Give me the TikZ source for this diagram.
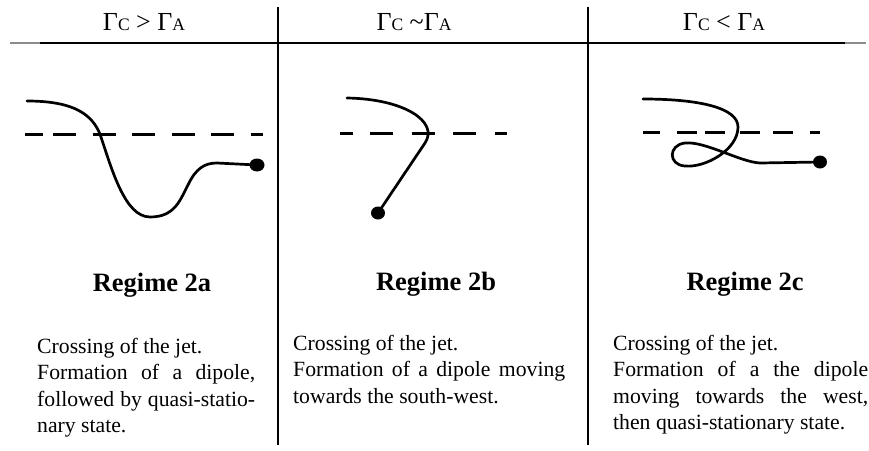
\documentclass[tikz,border=0pt]{standalone}
\usepackage{fontspec}
\setmainfont{Liberation Serif}
\newcommand{\hsm}[1]{{\fontsize{17.5}{19}\selectfont #1}}
\newcommand{\jl}[2]{\makebox[#1][s]{#2}}
\tikzset{
  jet/.style={line width=2.7pt, line cap=round},
  dashline/.style={line width=3pt},
  sep/.style={line width=1.4pt},
  tip/.style={fill=black, draw=none},
  head/.style={anchor=base, inner sep=0pt, font=\fontsize{26}{30}\selectfont},
  regime/.style={anchor=base, inner sep=0pt, font=\fontsize{26.5}{30}\selectfont\bfseries},
  body/.style={anchor=base west, inner sep=0pt, font=\fontsize{21.7}{26.5}\selectfont}
}
\begin{document}
\begin{tikzpicture}[x=1pt, y=-1pt]
\useasboundingbox (0,0) rectangle (869,450);
% table rules
\draw[line width=2pt, black!45] (10,43) -- (866,43);
\draw[line width=2pt] (40,43) -- (845,43);
\draw[sep] (278,7) -- (278,445);
\draw[sep] (588,7) -- (588,445);
% headers
\node[head] (h1) at (144,30) {Γ\hsm{C} > Γ\hsm{A}};
\node[head] (h2) at (414,30) {Γ\hsm{C} \textasciitilde Γ\hsm{A}};
\node[head] (h3) at (724,30) {Γ\hsm{C} < Γ\hsm{A}};
% regime 2a
\draw[dashline] (25,134) -- (43,134);
\draw[dashline, dash pattern=on 23pt off 16.5pt] (53,134) -- (263,134);
\draw[jet] (27,101) .. controls (75,101) and (92,115) .. (100,134)
  .. controls (112,170) and (125,217) .. (150,217)
  .. controls (175,217) and (180,200) .. (188,185)
  .. controls (196,168) and (205,163) .. (217,163) -- (257,165);
\fill[tip] (257,165) ellipse [x radius=7.5pt, y radius=6.5pt];
% regime 2b
\draw[dashline] (340,133) -- (353,133);
\draw[dashline, dash pattern=on 23pt off 18.5pt] (370,133) -- (507,133);
\draw[jet] (347,98) .. controls (405,99) and (439,122) .. (425,143) -- (378,213);
\fill[tip] (378,213) ellipse [x radius=7pt, y radius=6.5pt];
% regime 2c
\draw[dashline, dash pattern=on 17pt off 17pt on 20pt off 8pt on 20pt off 15pt on 20pt off 13pt on 20pt off 17pt on 20pt off 20pt] (643,132) -- (820,132);
\draw[jet] (643,99) .. controls (700,99) and (738,108) .. (738,127)
  .. controls (738,150) and (705,168) .. (685,166)
  .. controls (668,165) and (668,145) .. (685,143)
  .. controls (705,141) and (740,162) .. (760,163) -- (820,162);
\fill[tip] (820,162) ellipse [x radius=7pt, y radius=6.5pt];
% titles
\node[regime] (r1) at (152,291) {Regime 2a};
\node[regime] (r2) at (436,290) {Regime 2b};
\node[regime] (r3) at (745,290) {Regime 2c};
% descriptions
\node[body] (t1) at (37,353) {\parbox[t]{218pt}{Crossing of the jet.\\
\jl{218pt}{Formation of a dipole,}\\
\jl{218pt}{followed by quasi-statio-}\\
nary state.}};
\node[body] (t2) at (293,350) {\parbox[t]{272pt}{Crossing of the jet.\\
\jl{272pt}{Formation of a dipole moving}\\
towards the south-west.}};
\node[body] (t3) at (613,350) {\parbox[t]{255pt}{Crossing of the jet.\\
\jl{255pt}{Formation of a the dipole}\\
\jl{255pt}{moving towards the west,}\\
then quasi-stationary state.}};
\end{tikzpicture}
\end{document}
